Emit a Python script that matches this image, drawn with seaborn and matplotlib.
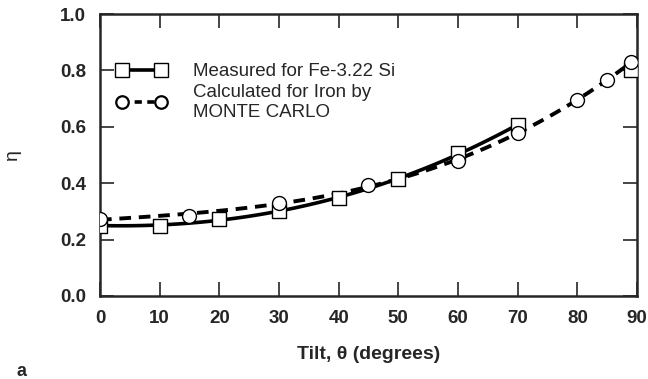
import numpy as np
import pandas as pd
import matplotlib
matplotlib.use('Agg')
import matplotlib.pyplot as plt
from matplotlib.lines import Line2D
import seaborn as sns

# measured (Fe-3.22 Si), squares
tilt_meas = [0, 10, 20, 30, 40, 50, 60, 70, 89]
eta_meas = [0.25, 0.25, 0.273, 0.30, 0.348, 0.415, 0.507, 0.606, 0.80]
# calculated (Monte Carlo), circles
tilt_calc = [0, 15, 30, 45, 60, 70, 80, 85, 89]
eta_calc = [0.273, 0.285, 0.33, 0.395, 0.479, 0.578, 0.695, 0.766, 0.83]

x_ticks = [0, 10, 20, 30, 40, 50, 60, 70, 80, 90]
y_ticks = [0.0, 0.2, 0.4, 0.6, 0.8, 1.0]

meas = pd.DataFrame({'tilt': tilt_meas, 'eta': eta_meas})
calc = pd.DataFrame({'tilt': tilt_calc, 'eta': eta_calc})

sns.set_style('ticks')
plt.rcParams['font.family'] = ['Liberation Sans', 'DejaVu Sans']

fig = plt.figure(figsize=(6.48, 3.79), dpi=100)
ax = fig.add_axes([0.1543, 0.219, 0.8287, 0.744])

# fitted curves (solid only over the 0-70 range it was measured for)
sns.regplot(data=meas[meas.tilt <= 70], x='tilt', y='eta', order=3, ci=None,
            scatter=False, truncate=True, color='black',
            line_kws={'lw': 2.6, 'solid_capstyle': 'butt'}, ax=ax)
sns.regplot(data=calc, x='tilt', y='eta', order=3, ci=None,
            scatter=False, truncate=True, color='black',
            line_kws={'lw': 2.8, 'ls': (0, (3, 2))}, ax=ax)

sns.scatterplot(data=meas, x='tilt', y='eta', marker='s', s=110,
                facecolor='white', edgecolor='black', linewidth=1.0,
                zorder=4, ax=ax)
sns.scatterplot(data=calc, x='tilt', y='eta', marker='o', s=100,
                facecolor='white', edgecolor='black', linewidth=1.0,
                zorder=5, ax=ax)

ax.set_xlim(0, 90)
ax.set_ylim(0, 1.0)
ax.set_xticks(x_ticks)
ax.set_yticks(y_ticks)
ax.set_yticklabels(['%.1f' % v for v in y_ticks])
ax.tick_params(direction='in', length=10, width=1.2, top=True, right=True,
               labelsize=13.5, pad=10)
for lab in ax.get_xticklabels() + ax.get_yticklabels():
    lab.set_fontweight('bold')
for sp in ax.spines.values():
    sp.set_linewidth(1.8)
    sp.set_visible(True)

ax.set_xlabel('Tilt, \u03b8 (degrees)', fontsize=14, fontweight='bold', labelpad=14)
ax.set_ylabel('\u03b7', fontsize=14, labelpad=28)

handles = [
    Line2D([], [], color='black', lw=2.6, marker='s', markersize=10,
           markerfacecolor='white', markeredgewidth=1.0),
    Line2D([], [], color='black', lw=2.6, ls=(0, (2, 1.5)), marker='o', markersize=9,
           markerfacecolor='white', markeredgewidth=1.6),
]
ax.legend(handles, ['Measured for Fe-3.22 Si', 'Calculated for Iron by\nMONTE CARLO'],
          loc='upper left', bbox_to_anchor=(0.03, 0.825), frameon=False,
          fontsize=13.5, numpoints=2, handlelength=2.7, handletextpad=1.4,
          labelspacing=0.2, borderaxespad=0, borderpad=0)

fig.text(0.026, 0.008, 'a', fontsize=13, fontweight='bold')

fig.savefig('out.png', dpi=100)
